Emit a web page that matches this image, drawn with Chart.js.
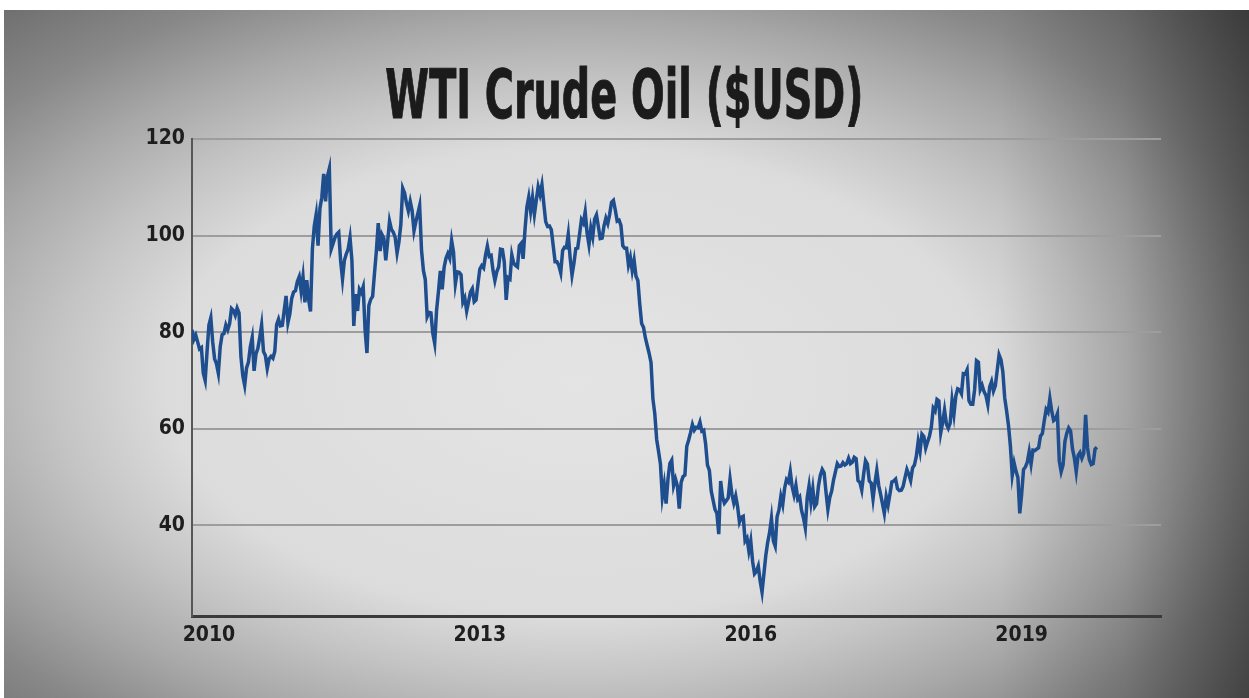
<!DOCTYPE html>
<html>
<head>
<meta charset="utf-8">
<title>WTI Crude Oil ($USD)</title>
<script src="https://cdn.jsdelivr.net/npm/chart.js@4.4.0/dist/chart.umd.min.js"></script>
<style>
  html, body { margin: 0; padding: 0; background: #fff; overflow: hidden; }
  #frame {
    position: absolute; left: 4px; top: 10px; width: 1245px; height: 688px;
    background:
      linear-gradient(to right, rgba(0,0,0,0) 0%, rgba(0,0,0,0) 80%, rgba(0,0,0,0.12) 90%, rgba(0,0,0,0.4) 100%),
      radial-gradient(ellipse 60% 62% at 46% 54%,
        #e4e4e4 0%, #dcdcdc 55%, #c4c4c4 70%, #a8a8a8 85%, #888888 100%, #5a5a5a 130%);
  }
  #title {
    position: absolute; left: 0; top: 61px; width: 1249px; text-align: center;
    font-family: 'Liberation Sans Narrow', 'DejaVu Sans Condensed', 'DejaVu Sans', sans-serif;
    font-weight: bold; font-size: 68px; line-height: 1; color: #1b1b1b; white-space: nowrap;
    -webkit-text-stroke: 1px #1b1b1b;
  }
  #title span { display: inline-block; transform-origin: center; }
  #wrap { position: absolute; left: 0; top: 0; width: 1249px; height: 698px; }
</style>
</head>
<body>
<div id="frame"></div>
<div id="title"><span>WTI Crude Oil ($USD)</span></div>
<div id="wrap"><canvas id="oil" width="1249" height="698"></canvas></div>
<script>
// WTI weekly-ish closes, four readings per month (1st, 8th, 16th, 23rd)
const p2009 = [80.5, 78.5, 79.4, 78.0, 76.5, 76.8, 71.5, 70.0, 76.0]; // from late Oct
const p2010 = [81.5, 83.0, 78.0, 74.5, 73.5, 71.5, 77.0, 79.5, 79.7, 81.5, 80.5, 81.8,
               84.9, 84.5, 83.5, 85.0, 84.0, 75.0, 71.0, 69.0, 72.6, 73.8, 77.0, 78.9,
               72.0, 75.5, 76.6, 78.9, 81.5, 76.0, 75.2, 72.5, 74.5, 75.0, 74.6, 76.0,
               81.6, 82.7, 81.3, 81.4, 84.5, 87.5, 82.0, 83.8, 87.0, 88.3, 88.6, 90.5];
const p2011 = [91.5, 88.5, 91.5, 86.2, 90.8, 86.7, 84.3, 97.3, 102.0, 104.4, 97.9, 105.6,
               107.9, 112.8, 107.1, 112.3, 113.9, 97.2, 98.4, 99.6, 100.3, 100.7, 94.8, 91.0,
               94.9, 96.2, 97.2, 99.6, 94.9, 81.3, 87.9, 84.4, 88.9, 88.2, 89.4, 80.5,
               75.7, 85.5, 86.8, 87.4, 92.2, 96.8, 102.6, 96.8, 100.2, 99.4, 94.9, 98.8];
const p2012 = [103.0, 101.3, 100.7, 99.6, 96.4, 98.7, 102.3, 109.8, 108.8, 106.7, 105.1, 107.1,
               105.2, 101.0, 102.9, 104.5, 106.2, 97.0, 92.8, 90.9, 83.2, 84.1, 84.0, 79.8,
               77.7, 84.5, 88.4, 92.7, 88.9, 93.4, 95.3, 96.3, 95.3, 99.0, 96.6, 90.0,
               92.5, 92.4, 91.9, 86.2, 87.1, 84.4, 86.3, 88.3, 89.0, 86.3, 86.7, 90.0];
const p2013 = [93.1, 93.8, 93.3, 95.9, 97.8, 95.7, 95.9, 92.8, 90.7, 92.5, 93.5, 97.2,
               97.1, 94.5, 86.7, 91.3, 91.0, 96.0, 94.3, 93.8, 93.5, 97.9, 98.4, 95.2,
               101.2, 105.9, 108.0, 105.0, 107.9, 104.4, 107.3, 110.1, 108.5, 110.5, 106.6, 102.9,
               101.9, 102.0, 101.2, 97.9, 94.6, 94.6, 93.8, 92.3, 96.9, 97.6, 97.5, 100.3];
const p2014 = [95.4, 91.8, 94.2, 97.3, 97.4, 100.3, 103.3, 102.6, 104.9, 100.6, 98.1, 101.6,
               99.7, 103.4, 104.3, 101.9, 99.4, 99.5, 102.0, 103.6, 102.5, 104.4, 106.9, 107.3,
               105.3, 103.0, 103.2, 102.1, 97.9, 97.4, 97.4, 93.9, 95.5, 92.7, 94.9, 91.6,
               90.7, 85.8, 81.8, 81.0, 78.8, 77.2, 75.6, 73.7, 66.2, 63.1, 57.8, 55.3];
const p2015 = [52.7, 45.9, 48.5, 44.5, 49.6, 52.8, 53.5, 48.2, 49.6, 48.2, 43.5, 48.9,
               50.1, 50.4, 56.4, 57.7, 59.2, 60.9, 59.7, 60.3, 60.2, 61.4, 59.5, 59.7,
               56.9, 52.5, 51.4, 47.1, 45.2, 43.3, 42.5, 38.2, 49.2, 45.9, 44.6, 45.1,
               45.7, 49.6, 46.4, 44.6, 46.1, 43.9, 40.7, 41.7, 41.9, 36.8, 37.4, 34.7];
const p2016 = [36.8, 32.5, 30.0, 30.5, 31.6, 28.5, 26.2, 30.0, 33.8, 36.5, 38.5, 41.5,
               36.8, 35.7, 41.8, 43.2, 46.0, 44.3, 47.7, 49.5, 49.0, 51.2, 48.0, 46.3,
               48.3, 45.4, 45.9, 43.1, 41.6, 39.5, 45.7, 48.2, 44.7, 47.6, 43.9, 44.5,
               48.2, 50.4, 51.6, 50.9, 46.9, 43.3, 45.8, 47.1, 49.4, 51.1, 52.8, 52.2];
const p2017 = [52.3, 53.0, 52.5, 52.8, 53.9, 52.8, 53.1, 54.1, 53.8, 49.3, 48.9, 47.3,
               50.6, 53.4, 52.7, 49.2, 48.8, 45.5, 48.8, 51.4, 48.3, 46.5, 44.5, 42.5,
               46.0, 44.2, 46.5, 49.0, 49.2, 49.6, 47.6, 47.2, 47.3, 48.1, 49.9, 51.6,
               50.6, 49.3, 51.9, 52.5, 54.3, 57.4, 55.3, 58.9, 58.4, 56.0, 57.3, 58.5];
const p2018 = [60.4, 64.3, 63.7, 66.1, 65.8, 59.2, 61.3, 63.9, 61.0, 60.1, 61.2, 65.9,
               63.0, 66.8, 68.3, 68.1, 67.3, 71.4, 71.3, 72.2, 65.8, 65.1, 65.1, 68.1,
               74.1, 73.8, 68.1, 69.0, 67.7, 66.9, 65.0, 68.7, 69.8, 67.8, 68.9, 72.1,
               75.3, 74.3, 71.8, 66.4, 63.7, 60.7, 56.5, 50.4, 52.9, 51.2, 49.9, 42.5];
const p2019 = [46.5, 51.6, 52.1, 53.1, 55.3, 52.7, 55.6, 55.5, 55.8, 56.1, 58.5, 59.0,
               61.6, 64.0, 63.4, 66.3, 63.6, 61.7, 62.0, 63.1, 53.3, 51.1, 52.5, 57.4,
               59.1, 60.2, 59.6, 55.9, 54.0, 51.1, 54.5, 55.1, 53.9, 54.9, 62.9, 56.1,
               53.6, 52.6, 52.8, 55.8, 56.2];

// [year, prices, index of first reading within that year]
const years = [[2009, p2009, 39], [2010, p2010, 0], [2011, p2011, 0], [2012, p2012, 0],
               [2013, p2013, 0], [2014, p2014, 0], [2015, p2015, 0], [2016, p2016, 0],
               [2017, p2017, 0], [2018, p2018, 0], [2019, p2019, 0]];

const xTicks = [2010, 2013, 2016, 2019];
const yTicks = [40, 60, 80, 100, 120];
const xMin = 2009.8125, xMax = 2020.543;
const yMin = 21.25, yMax = 120;

let points = [];
years.forEach(function (row) {
    row[1].forEach(function (v, i) {
        points.push({ x: row[0] + (row[2] + i) / 48, y: v });
    });
});

const tickFont = { family: "'Liberation Sans Narrow', 'DejaVu Sans Condensed', sans-serif", size: 21, weight: 'bold' };

let ctx = document.getElementById('oil');
let chartGraph = new Chart(ctx, {
    type: 'line',
    data: {
        datasets: [{
            data: points,
            borderColor: '#1f4e8e',
            borderWidth: 3.5,
            pointRadius: 0,
            tension: 0,
            fill: false
        }]
    },
    options: {
        responsive: false,
        animation: false,
        layout: { padding: { top: 139, right: 88, bottom: 0, left: 0 } },
        plugins: { legend: { display: false }, tooltip: { enabled: false } },
        scales: {
            x: {
                type: 'linear', min: xMin, max: xMax,
                afterBuildTicks: function (s) { s.ticks = xTicks.map(v => ({ value: v })); },
                afterFit: function (s) { s.height = 82; },
                grid: { display: false, drawTicks: false },
                border: { color: '#3a3a3a', width: 3 },
                ticks: { font: tickFont, color: '#1e1e1e', padding: 7, maxRotation: 0, autoSkip: false,
                         callback: v => String(v) }
            },
            y: {
                min: yMin, max: yMax,
                afterBuildTicks: function (s) { s.ticks = yTicks.map(v => ({ value: v })); },
                afterFit: function (s) { s.width = 192; },
                grid: { color: '#9d9d9d', lineWidth: 2, drawTicks: false },
                border: { color: '#575757', width: 2 },
                ticks: { font: tickFont, color: '#1e1e1e', padding: 7, callback: v => String(v) }
            }
        }
    }
});

// squeeze the title to the width of the original heading
let t = document.querySelector('#title span');
let w = t.getBoundingClientRect().width;
t.style.transform = 'scaleX(' + (478 / w) + ')';
</script>
</body>
</html>
